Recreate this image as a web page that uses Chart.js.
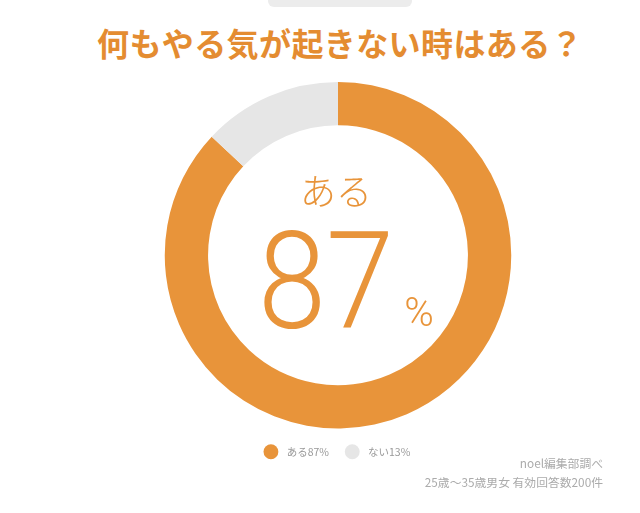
<!DOCTYPE html>
<html><head><meta charset="utf-8">
<script src="https://cdn.jsdelivr.net/npm/chart.js@4"></script>
<style>
html,body{margin:0;padding:0;background:#fff;width:640px;height:513px;overflow:hidden;font-family:"Noto Sans CJK JP","Noto Sans",sans-serif;}
#topbar{position:absolute;left:268px;top:-8px;width:144px;height:15px;background:#ececec;border-radius:6px;}
#title{position:absolute;left:0;top:19px;width:680px;text-align:center;font-size:32px;font-weight:bold;color:#E48C31;letter-spacing:0.4px;}
#wrap{position:absolute;left:0;top:82px;width:676px;height:385px;}
#note{position:absolute;right:37px;top:453px;text-align:right;font-size:11.8px;color:#ababab;line-height:19px;}
</style></head><body>
<div id="topbar"></div>
<div id="title">何もやる気が起きない時はある？</div>
<div id="wrap"><canvas id="c"></canvas></div>
<div id="note">noel編集部調べ<br>25歳～35歳男女 有効回答数200件</div>
<script>
const categories = ["ある87%", "ない13%"];
const values = [87, 13];
const colors = ["#E8943A", "#E6E6E6"];
const centerLabel = "ある";
const centerValue = "87";

const centerText = {
  id: 'centerText',
  afterDraw(chart) {
    const meta = chart.getDatasetMeta(0);
    const arc = meta.data[0];
    if (!arc) return;
    const cx = arc.x, cy = arc.y;
    const ctx = chart.ctx;
    ctx.save();
    ctx.fillStyle = "#E8943A";
    ctx.textAlign = "center";
    ctx.textBaseline = "alphabetic";
    ctx.font = '300 36px "Noto Sans CJK JP"';
    ctx.fillText(centerLabel, cx - 2, cy - 50);
    ctx.save();
    ctx.translate(cx - 12, cy + 73);
    ctx.scale(0.9, 1);
    ctx.font = '300 136px "Roboto"';
    ctx.fillText(centerValue, 0, 0);
    ctx.restore();
    ctx.font = '300 40px "Roboto"';
    ctx.fillText("%", cx + 81, cy + 71);
    ctx.restore();
  }
};

new Chart(document.getElementById('c'), {
  type: 'doughnut',
  data: {
    labels: categories,
    datasets: [{ data: values, backgroundColor: colors, borderWidth: 0, hoverOffset: 0 }]
  },
  options: {
    responsive: true,
    maintainAspectRatio: false,
    animation: false,
    cutout: '75%',
    layout: { padding: 0 },
    plugins: {
      tooltip: { enabled: false },
      legend: {
        position: 'bottom',
        labels: {
          usePointStyle: true,
          pointStyle: 'circle',
          boxWidth: 11,
          boxHeight: 11,
          padding: 18,
          color: '#999',
          font: { size: 10.5, family: '"Noto Sans CJK JP"' },
          generateLabels(chart) {
            const items = Chart.overrides.doughnut.plugins.legend.labels.generateLabels(chart);
            items.forEach(it => { it.text = '\u2002' + it.text; });
            return items;
          }
        }
      }
    }
  },
  plugins: [centerText]
});
</script>
</body></html>
